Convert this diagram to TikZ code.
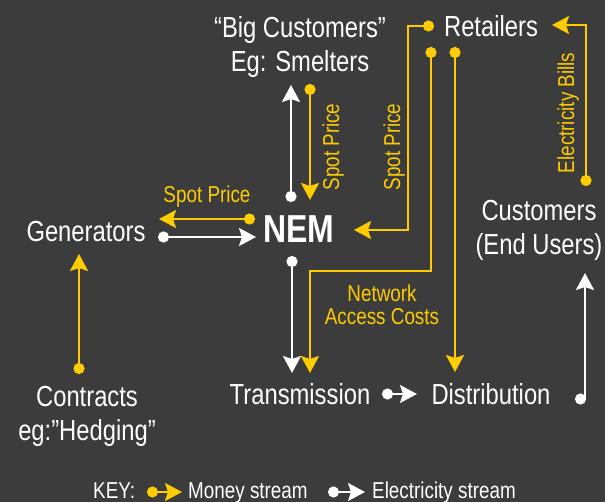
\documentclass[tikz,border=0pt]{standalone}
\usepackage{fontspec}
\setmainfont{Liberation Sans}[FakeStretch=0.82]
\usetikzlibrary{arrows.meta}

\definecolor{bgGray}{RGB}{60,60,60}
\definecolor{moneyYellow}{RGB}{255,204,0}

\begin{document}
\begin{tikzpicture}[x=1pt,y=1pt,
  place/.style={text=white,inner sep=0,anchor=base,align=center,font=\fontsize{29}{34}\selectfont},
  tag/.style={text=moneyYellow,inner sep=0,anchor=base,align=center,font=\fontsize{23}{23}\selectfont},
  keytext/.style={text=white,inner sep=0,anchor=base west,font=\fontsize{23}{23}\selectfont},
  flow/.style={line width=2.5pt,{Circle[length=11pt]}-{Stealth[length=17pt,width=18pt,inset=3pt]}},
  money/.style={flow,draw=moneyYellow},
  elec/.style={flow,draw=white}]

\useasboundingbox (0,0) rectangle (605,-502);
\fill[bgGray] (0,0) rectangle (605,-502);

\node[place] (bigcust) at (300,-72) {“Big Customers”\\Eg: Smelters};
\node[place] (retail) at (491,-37) {Retailers};
\node[place] (gen) at (86,-242) {Generators};
\node[place,font=\fontsize{39}{40}\selectfont\bfseries] (nem) at (299,-243) {NEM};
\node[place] (cust) at (539,-255) {Customers\\(End Users)};
\node[place] (contr) at (87,-440) {Contracts\\eg:”Hedging”};
\node[place] (trans) at (300,-405) {Transmission};
\node[place] (distr) at (491,-405) {Distribution};

\node[tag,rotate=90] (spotbig) at (339,-147) {Spot Price};
\node[tag,rotate=90] (spotret) at (400,-147) {Spot Price};
\node[tag] (spotgen) at (207,-203) {Spot Price};
\node[tag] (netcost) at (382,-325) {Network\\Access Costs};
\node[tag,rotate=90] (bills) at (574,-113) {Electricity Bills};

\coordinate (nemUpS) at (291,-202);
\coordinate (nemUpE) at (291,-85);
\coordinate (bigDnS) at (310,-84);
\coordinate (bigDnE) at (310,-200);
\coordinate (retSpotS) at (434,-26);
\coordinate (retSpotE) at (354,-230);
\coordinate (nemGenS) at (255,-219);
\coordinate (nemGenE) at (159,-219);
\coordinate (genNemS) at (158,-237);
\coordinate (genNemE) at (256,-237);
\coordinate (nemDnS) at (292,-256);
\coordinate (nemDnE) at (292,-373);
\coordinate (retNetS) at (431,-47);
\coordinate (retNetE) at (310,-373);
\coordinate (retDisS) at (455,-47);
\coordinate (retDisE) at (455,-372);
\coordinate (custBillS) at (586,-186);
\coordinate (custBillE) at (552,-25);
\coordinate (disCustS) at (575,-399);
\coordinate (disCustE) at (585,-273);
\coordinate (contrS) at (79,-374);
\coordinate (contrE) at (79,-254);
\coordinate (transS) at (382,-394);
\coordinate (transE) at (417,-394);

\draw[elec] (nemUpS) -- (nemUpE);
\draw[money] (bigDnS) -- (bigDnE);
\draw[money] (retSpotS) -- (408,-26) -- (408,-230) -- (retSpotE);
\draw[money] (nemGenS) -- (nemGenE);
\draw[elec] (genNemS) -- (genNemE);
\draw[elec] (nemDnS) -- (nemDnE);
\draw[money] (retNetS) -- (431,-271) -- (310,-271) -- (retNetE);
\draw[money] (retDisS) -- (retDisE);
\draw[money] (custBillS) -- (586,-25) -- (custBillE);
\draw[elec] (disCustS) -- (585,-399) -- (disCustE);
\draw[money] (contrS) -- (contrE);
\draw[elec,line width=2pt] (transS) -- (transE);

\node[keytext] (key) at (93,-498) {KEY:};
\coordinate (keyMoneyS) at (147,-492);
\coordinate (keyMoneyE) at (182,-492);
\node[keytext] (keymoney) at (188,-498) {Money stream};
\coordinate (keyElecS) at (328,-492);
\coordinate (keyElecE) at (365,-492);
\node[keytext] (keyelec) at (372,-498) {Electricity stream};
\draw[money,line width=2pt] (keyMoneyS) -- (keyMoneyE);
\draw[elec,line width=2pt] (keyElecS) -- (keyElecE);

\end{tikzpicture}
\end{document}
